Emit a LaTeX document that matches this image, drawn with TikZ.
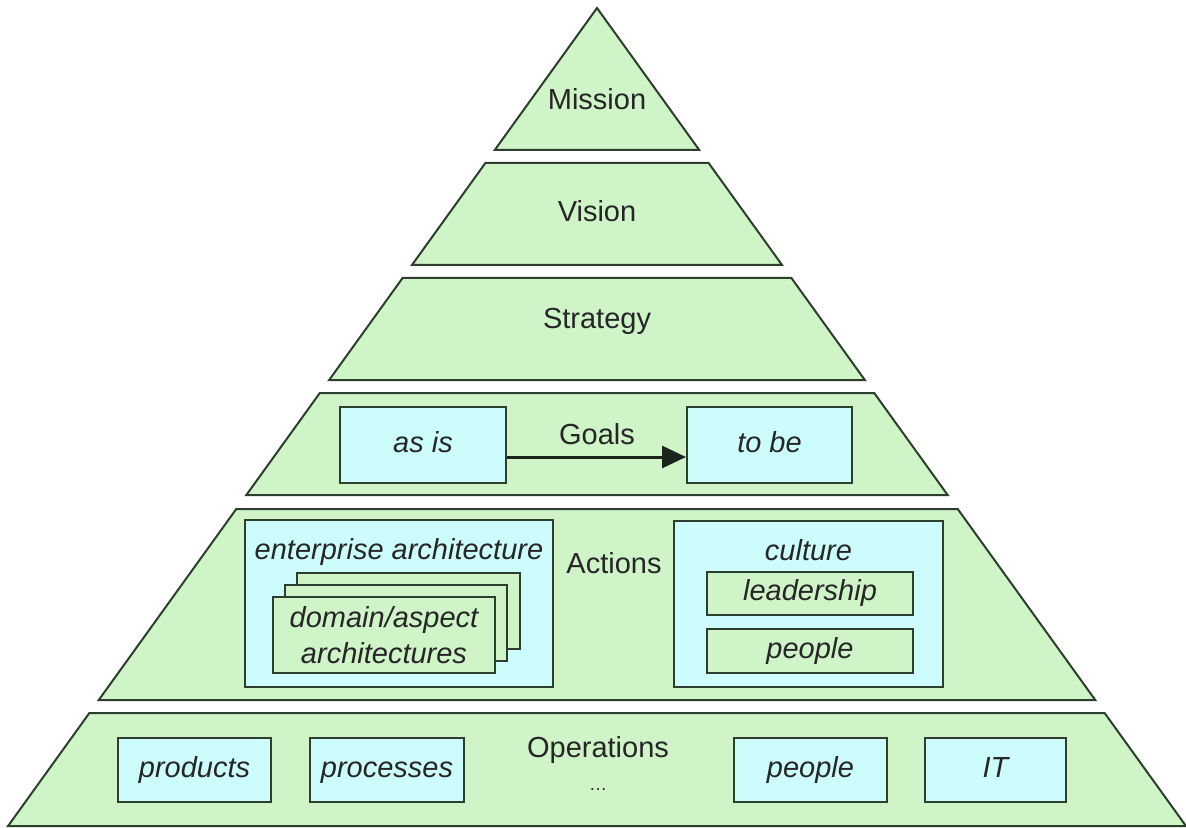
\documentclass[tikz,border=0pt]{standalone}
\usepackage{fontspec}
\setmainfont{Liberation Sans}
\usepackage{tikz}
\usetikzlibrary{arrows.meta}
\definecolor{layer_green}{RGB}{206,244,200}
\definecolor{box_cyan}{RGB}{204,252,252}
\definecolor{edge_dark}{RGB}{45,62,45}

\begin{document}
\begin{tikzpicture}[x=0.5pt,y=-0.5pt,line width=1pt,font=\fontsize{14.5}{18}\selectfont]
    \tikzstyle{layer}=[draw=edge_dark, fill=layer_green, line join=miter]
    \tikzstyle{label}=[text=black!85, inner sep=0pt]
    \tikzstyle{frame}=[draw=edge_dark, fill=box_cyan, inner sep=0pt, text=black!85, font=\fontsize{14.5}{18}\selectfont\itshape]
    \tikzstyle{box}=[style=frame, text height=1.8ex, text depth=0.4ex]
    \tikzstyle{greenbox}=[style=box, fill=layer_green]
    \tikzstyle{stackbox}=[style=frame, fill=layer_green, align=center]
    \useasboundingbox (0,0) rectangle (1186,828);

    % pyramid layers
    \foreach \yt/\yb in {8/150,163/265,278/380,393/495,509/700,713/826}
      \draw[layer] ({597-0.72*(\yt-8)},\yt) -- ({597+0.72*(\yt-8)},\yt)
                -- ({597+0.72*(\yb-8)},\yb) -- ({597-0.72*(\yb-8)},\yb) -- cycle;

    \node[label] (mission) at (597,99)  {Mission};
    \node[label] (vision)  at (597,211) {Vision};
    \node[label] (strategy) at (597,321) {Strategy};

    % goals
    \node[label] (goals) at (597,434) {Goals};
    \node[box, minimum width=83pt, minimum height=38pt] (asis) at (423,445) {as is};
    \node[box, minimum width=82.5pt, minimum height=38pt] (tobe) at (769.5,445) {to be};
    \draw[edge_dark!60!black, line width=1.5pt, -{Triangle[length=12pt,width=11pt]}]
      ([yshift=-6pt]asis.east) -- ([yshift=-6pt]tobe.west);

    % actions
    \node[label] (actions) at (614,563) {Actions};
    \node[frame, minimum width=154pt, minimum height=83.5pt] (ea) at (399,603.5) {};
    \node[label, font=\fontsize{14.5}{18}\selectfont\itshape] (ealabel) at (399,552) {enterprise architecture};
    \node[stackbox, minimum width=111.5pt, minimum height=38pt] (archback) at (408.5,611) {};
    \node[stackbox, minimum width=111pt, minimum height=38pt] (archmid) at (396,623) {};
    \node[stackbox, minimum width=111pt, minimum height=38pt] (archfront) at (384,635) {domain/aspect\\architectures};
    \node[frame, minimum width=134.5pt, minimum height=83pt] (culture) at (808.5,604) {};
    \node[label, font=\fontsize{14.5}{18}\selectfont\itshape] (culturelabel) at (808.5,550) {culture};
    \node[greenbox, minimum width=103pt, minimum height=21.5pt] (leadership) at (810,593.5) {leadership};
    \node[greenbox, minimum width=103pt, minimum height=22pt] (peoplec) at (810,651) {people};

    % operations
    \node[label] (operations) at (598,750) {Operations};
    \node[label] (more) at (598,790) {\fontsize{9}{10}\selectfont\dots};
    \node[box, minimum width=76.5pt, minimum height=32pt] (products) at (194.5,770) {products};
    \node[box, minimum width=77pt, minimum height=32pt] (processes) at (387,770) {processes};
    \node[box, minimum width=76.5pt, minimum height=32pt] (peopleo) at (810.5,770) {people};
    \node[box, minimum width=70.5pt, minimum height=32pt] (it) at (995.5,770) {IT};
\end{tikzpicture}
\end{document}
